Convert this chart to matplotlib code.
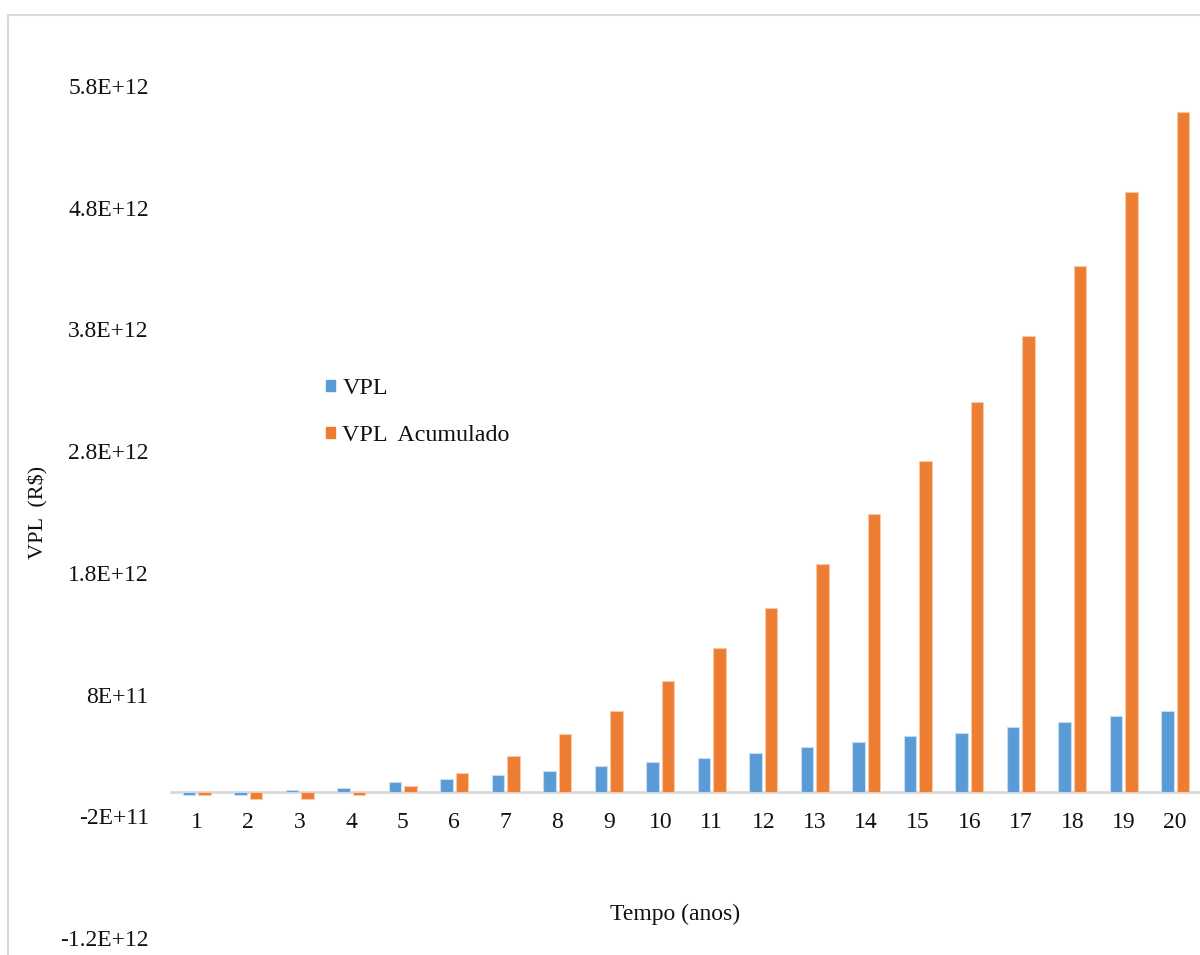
import matplotlib
matplotlib.use("Agg")
import matplotlib.pyplot as plt
from matplotlib.patches import Patch
from matplotlib.lines import Line2D
import numpy as np

# Annual and cumulative net present value (R$), years 1-20
anos = list(range(1, 21))
vpl = [-0.028e12, -0.028e12, 0.019e12, 0.033e12, 0.079e12, 0.109e12, 0.140e12,
       0.173e12, 0.216e12, 0.249e12, 0.276e12, 0.323e12, 0.367e12, 0.411e12,
       0.457e12, 0.487e12, 0.531e12, 0.578e12, 0.624e12, 0.668e12]
vpl_acumulado = [-0.028e12, -0.057e12, -0.057e12, -0.028e12, 0.052e12, 0.156e12,
                 0.293e12, 0.473e12, 0.668e12, 0.909e12, 1.183e12, 1.514e12,
                 1.876e12, 2.280e12, 2.722e12, 3.207e12, 3.749e12, 4.325e12,
                 4.928e12, 5.587e12]
y_ticks = [-1.2e12, -2e11, 8e11, 1.8e12, 2.8e12, 3.8e12, 4.8e12, 5.8e12]
y_tick_labels = ["-1.2E+12", "-2E+11", "8E+11", "1.8E+12", "2.8E+12",
                 "3.8E+12", "4.8E+12", "5.8E+12"]
series_names = ["VPL", "VPL  Acumulado"]

BLUE = "#5B9BD5"
ORANGE = "#ED7D31"
TEXT = "#111111"
FONT = "Liberation Serif"
FS = 17

plt.rcParams["font.family"] = [FONT, "DejaVu Serif"]

W, H = 1200, 955
fig = plt.figure(figsize=(W / 100, H / 100), dpi=100)
fig.patch.set_facecolor("white")

left_px, right_px, top_px, bottom_px = 171, 1201, 86, 938
ax = fig.add_axes([left_px / W, 1 - bottom_px / H,
                   (right_px - left_px) / W, (bottom_px - top_px) / H])

x = np.arange(1, len(anos) + 1)
bw = 0.235
off = 0.15
ax.bar(x - off, vpl, width=bw, color=BLUE, edgecolor="#c6dcf0", linewidth=0.8,
       label=series_names[0], zorder=3)
ax.bar(x + off, vpl_acumulado, width=bw, color=ORANGE, edgecolor="#f7c9a9",
       linewidth=0.8, label=series_names[1], zorder=3)

ax.set_xlim(0.5, len(anos) + 0.5)
ax.set_ylim(-1.2e12, 5.8e12)

# category axis sits on the zero line
for s in ["top", "right", "left"]:
    ax.spines[s].set_visible(False)
ax.spines["bottom"].set_position(("data", 0))
ax.spines["bottom"].set_color("#d9d9d9")
ax.spines["bottom"].set_linewidth(2)
ax.spines["bottom"].set_zorder(2)

ax.set_xticks(x)
ax.set_xticklabels([str(a) for a in anos], fontsize=FS, color=TEXT)
ax.set_yticks(y_ticks)
ax.set_yticklabels(y_tick_labels, fontsize=FS, color=TEXT)
ax.tick_params(axis="x", length=0, pad=14.5)
ax.tick_params(axis="y", length=0, pad=16)

fig.text(675 / W, 1 - 914 / H, "Tempo (anos)", fontsize=FS, ha="center",
         va="center", color=TEXT)
fig.text(38 / W, 1 - 512 / H, "VPL  (R$)", fontsize=FS - 1, rotation=90,
         ha="center", va="center", color=TEXT)

handles = [Patch(facecolor=BLUE, edgecolor=BLUE),
           Patch(facecolor=ORANGE, edgecolor=ORANGE)]
fig.legend(handles, series_names, loc="upper left",
           bbox_to_anchor=(326 / W, 1 - 378 / H), frameon=False,
           fontsize=FS + 0.3, handlelength=0.38, handleheight=0.3,
           handletextpad=0.3, labelspacing=1.08, borderpad=0, borderaxespad=0,
           labelcolor=TEXT)

# outer chart-area border (top and left edges visible)
fig.add_artist(Line2D([8 / W, 1.0], [1 - 15 / H, 1 - 15 / H],
                      transform=fig.transFigure, color="#d9d9d9", lw=1.5))
fig.add_artist(Line2D([8 / W, 8 / W], [0, 1 - 15 / H],
                      transform=fig.transFigure, color="#d9d9d9", lw=1.5))

fig.savefig("out.png", dpi=100, facecolor="white")
